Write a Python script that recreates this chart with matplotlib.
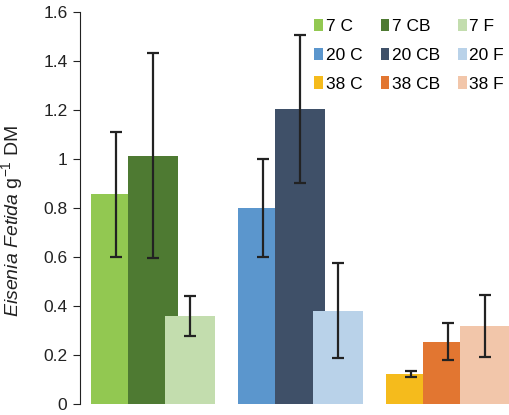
import numpy as np
from matplotlib import pyplot as plt

plt.rcParams['font.family'] = 'Liberation Sans'
plt.rcParams['mathtext.fontset'] = 'custom'
plt.rcParams['mathtext.rm'] = 'Liberation Sans'
plt.rcParams['mathtext.it'] = 'Liberation Sans:italic'

temps = ['7', '20', '38']
types = ['C', 'CB', 'F']

# mean values per temperature, by treatment
val_C = [0.856, 0.80, 0.121]
val_CB = [1.014, 1.205, 0.253]
val_F = [0.357, 0.38, 0.318]

err_C = [0.255, 0.20, 0.012]
err_CB = [0.418, 0.302, 0.075]
err_F = [0.082, 0.195, 0.128]

colors = {
    'C': ['#92C851', '#5B96CD', '#F5BB1C'],
    'CB': ['#4E7A32', '#3F5068', '#E27631'],
    'F': ['#C3DDAE', '#B9D2E9', '#F2C6AA'],
}

values = {'C': val_C, 'CB': val_CB, 'F': val_F}
errors = {'C': err_C, 'CB': err_CB, 'F': err_F}

fig = plt.figure(figsize=(5.09, 4.15), dpi=100)
ax = fig.add_axes([0.157, 0.027, 0.843, 0.944])

x = np.arange(len(temps))
step = 0.253
width = 0.339

handles = {}
for k, t in enumerate(types):
    pos = x + (k - 1) * step
    for i in range(len(temps)):
        b = ax.bar(pos[i], values[t][i], width, color=colors[t][i], zorder=k + 1)
        handles[(t, i)] = b
    ax.errorbar(pos, values[t], yerr=errors[t], fmt='none', ecolor='#222222',
                elinewidth=1.6, capsize=4.5, capthick=1.6, zorder=10)

# legend shown row-wise: column-major order here
h = []
l = []
for t in types:
    for i in range(len(temps)):
        h.append(handles[(t, i)])
        l.append(temps[i] + ' ' + t)
ax.legend(h, l, ncol=3, loc='upper right', bbox_to_anchor=(1.025, 1.022),
          frameon=False, fontsize=12.5, handlelength=0.5, handleheight=0.7,
          handletextpad=0.15, columnspacing=1.05, labelspacing=0.78)

ax.set_xlim(-0.495, 2.414)
ax.set_ylim(0, 1.6)
ax.set_yticks(np.arange(0, 1.61, 0.2))
ax.set_yticklabels(['0', '0.2', '0.4', '0.6', '0.8', '1', '1.2', '1.4', '1.6'])
ax.set_xticks([])
ax.tick_params(axis='y', labelsize=12.5, colors='#222222', length=5, width=0.8, pad=4)
for s in ['top', 'right', 'bottom']:
    ax.spines[s].set_visible(False)
ax.spines['left'].set_color('#222222')
ax.spines['left'].set_linewidth(0.8)
ax.set_ylabel(r'$\it{Eisenia\ Fetida}$ g$^{-1}$ DM', fontsize=14, color='#222222')
ax.yaxis.set_label_coords(-0.127, 0.467)

fig.savefig('out.png', dpi=100)
